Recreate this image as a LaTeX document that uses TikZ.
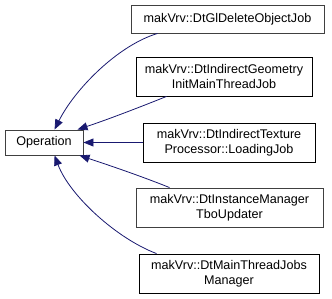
\documentclass[tikz,border=0pt]{standalone}
\usepackage{fontspec}
\setmainfont{Liberation Sans}
\usepackage{tikz}
\usetikzlibrary{arrows.meta,positioning}
\definecolor{edgecol}{RGB}{25,25,112}
\definecolor{framecol}{HTML}{404040}

\begin{document}
\begin{tikzpicture}[
  x=1pt, y=-1pt,
  >={Triangle[length=10pt,width=8pt]},
  classnode/.style={draw=black, line width=0.9pt, fill=white, align=center,
                    font=\fontsize{12.6}{14.8}\selectfont, inner sep=0pt},
  greynode/.style={classnode, draw=framecol},
  inherit/.style={->, edgecol, line width=0.8pt},
]
\useasboundingbox (0,0) rectangle (332,299);

\node[greynode, minimum width=78pt, minimum height=25pt]  (OP) at (44,142.5) {Operation};
\node[greynode, minimum width=193pt, minimum height=28pt] (GLD) at (227.5,19) {makVrv::DtGlDeleteObjectJob};
\node[classnode, minimum width=176pt, minimum height=39pt] (IGM) at (224,76.5) {makVrv::DtIndirectGeometry\\InitMainThreadJob};
\node[classnode, minimum width=172pt, minimum height=39pt] (ITP) at (229,142.5) {makVrv::DtIndirectTexture\\Processor::LoadingJob};
\node[greynode, minimum width=187pt, minimum height=39pt] (IMT) at (229.5,207.5) {makVrv::DtInstanceManager\\TboUpdater};
\node[classnode, minimum width=180pt, minimum height=39pt] (MTJ) at (229,273.5) {makVrv::DtMainThreadJobs\\Manager};

% derived classes point back to the base class
\draw[inherit] ([xshift=27pt]GLD.south west) .. controls +(-40,12) and +(20,-40) .. ([xshift=50pt]OP.north west);
\draw[inherit] ([xshift=31pt]IGM.south west) .. controls +(-30,12) and +(30,-10) .. ([xshift=73pt]OP.north west);
\draw[inherit] (ITP.west) -- (OP.east);
\draw[inherit] ([xshift=34pt]IMT.north west) .. controls +(-30,-12) and +(30,10) .. ([xshift=75pt]OP.south west);
\draw[inherit] ([xshift=18pt]MTJ.north west) .. controls +(-40,-15) and +(15,40) .. ([xshift=50pt]OP.south west);

\end{tikzpicture}
\end{document}
